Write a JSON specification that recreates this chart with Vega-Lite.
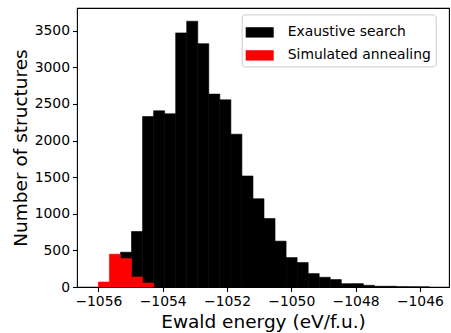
{
  "$schema": "https://vega.github.io/schema/vega-lite/v6.json",
  "autosize": "none",
  "width": 372,
  "height": 279,
  "padding": {"left": 77, "top": 8, "right": 2, "bottom": 46},
  "background": "white",
  "config": {
    "font": "DejaVu Sans",
    "view": {"stroke": "#000000", "strokeWidth": 1.1},
    "axis": {"grid": false, "domain": false, "tickColor": "#000000", "tickSize": 4.5, "tickWidth": 1.1, "labelColor": "#000000", "titleColor": "#000000", "labelFontSize": 13.9, "titleFontSize": 18.5, "titleFontWeight": "normal", "labelPadding": 3}
  },
  "data": {
    "values": [
      {"series": "Exaustive search", "start": -1055.313, "end": -1054.970, "count": 475},
      {"series": "Exaustive search", "start": -1054.970, "end": -1054.626, "count": 758},
      {"series": "Exaustive search", "start": -1054.626, "end": -1054.283, "count": 2328},
      {"series": "Exaustive search", "start": -1054.283, "end": -1053.940, "count": 2406},
      {"series": "Exaustive search", "start": -1053.940, "end": -1053.596, "count": 2365},
      {"series": "Exaustive search", "start": -1053.596, "end": -1053.253, "count": 3470},
      {"series": "Exaustive search", "start": -1053.253, "end": -1052.909, "count": 3629},
      {"series": "Exaustive search", "start": -1052.909, "end": -1052.566, "count": 3323},
      {"series": "Exaustive search", "start": -1052.566, "end": -1052.223, "count": 2634},
      {"series": "Exaustive search", "start": -1052.223, "end": -1051.879, "count": 2556},
      {"series": "Exaustive search", "start": -1051.879, "end": -1051.536, "count": 2087},
      {"series": "Exaustive search", "start": -1051.536, "end": -1051.192, "count": 1516},
      {"series": "Exaustive search", "start": -1051.192, "end": -1050.849, "count": 1205},
      {"series": "Exaustive search", "start": -1050.849, "end": -1050.506, "count": 936},
      {"series": "Exaustive search", "start": -1050.506, "end": -1050.162, "count": 626},
      {"series": "Exaustive search", "start": -1050.162, "end": -1049.819, "count": 402},
      {"series": "Exaustive search", "start": -1049.819, "end": -1049.475, "count": 334},
      {"series": "Exaustive search", "start": -1049.475, "end": -1049.132, "count": 183},
      {"series": "Exaustive search", "start": -1049.132, "end": -1048.789, "count": 133},
      {"series": "Exaustive search", "start": -1048.789, "end": -1048.445, "count": 101},
      {"series": "Exaustive search", "start": -1048.445, "end": -1048.102, "count": 46},
      {"series": "Exaustive search", "start": -1048.102, "end": -1047.758, "count": 46},
      {"series": "Exaustive search", "start": -1047.758, "end": -1047.415, "count": 23},
      {"series": "Exaustive search", "start": -1047.415, "end": -1047.072, "count": 10},
      {"series": "Exaustive search", "start": -1047.072, "end": -1046.728, "count": 10},
      {"series": "Exaustive search", "start": -1046.728, "end": -1046.385, "count": 3},
      {"series": "Exaustive search", "start": -1046.385, "end": -1046.041, "count": 2},
      {"series": "Exaustive search", "start": -1046.041, "end": -1045.698, "count": 1},
      {"series": "Simulated annealing", "start": -1056.000, "end": -1055.657, "count": 68},
      {"series": "Simulated annealing", "start": -1055.657, "end": -1055.313, "count": 448},
      {"series": "Simulated annealing", "start": -1055.313, "end": -1054.970, "count": 389},
      {"series": "Simulated annealing", "start": -1054.970, "end": -1054.626, "count": 137},
      {"series": "Simulated annealing", "start": -1054.626, "end": -1054.283, "count": 55}
    ]
  },
  "mark": {"type": "bar", "orient": "vertical", "strokeWidth": 0.6},
  "encoding": {
    "x": {"field": "start", "type": "quantitative", "scale": {"domain": [-1056.51, -1045.25], "nice": false, "zero": false}, "axis": {"values": [-1056, -1054, -1052, -1050, -1048, -1046], "format": "d", "title": "Ewald energy (eV/f.u.)", "titlePadding": 4}},
    "x2": {"field": "end"},
    "y": {"field": "count", "type": "quantitative", "stack": null, "scale": {"domain": [0, 3810], "nice": false}, "axis": {"values": [0, 500, 1000, 1500, 2000, 2500, 3000, 3500], "format": "d", "title": "Number of structures", "titlePadding": 4}},
    "y2": {"datum": 0},
    "stroke": {"field": "series", "type": "nominal", "scale": {"domain": ["Exaustive search", "Simulated annealing"], "range": ["#000000", "#ff0000"]}, "legend": null},
    "color": {"field": "series", "type": "nominal", "scale": {"domain": ["Exaustive search", "Simulated annealing"], "range": ["#000000", "#ff0000"]}, "legend": {"title": null, "orient": "none", "legendX": 164.7, "legendY": 6.4, "symbolType": "M-1,-0.37H1V0.37H-1Z", "symbolSize": 784, "symbolStrokeWidth": 0, "labelFontSize": 13.9, "labelColor": "#000000", "labelOffset": 14, "strokeColor": "#cccccc", "fillColor": "white", "cornerRadius": 3, "padding": 4, "rowPadding": 2}}
  }
}
